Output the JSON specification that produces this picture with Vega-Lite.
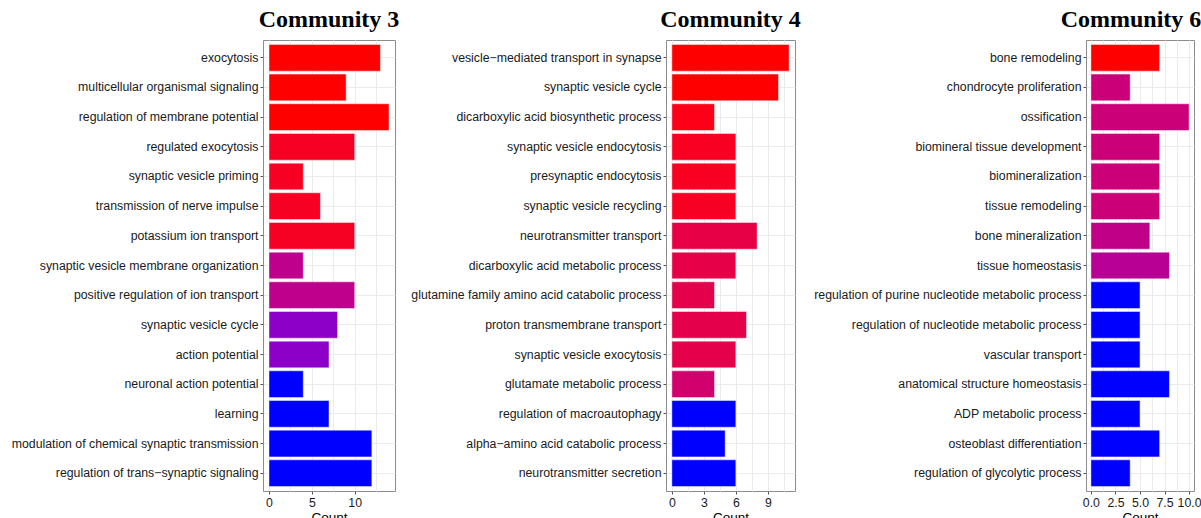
{
  "$schema": "https://vega.github.io/schema/vega-lite/v6.json",
  "background": "white",
  "padding": {"left": 10, "top": 7, "right": 5, "bottom": 0},
  "bounds": "full",
  "spacing": 11,
  "config": {
    "view": {"stroke": "#8c8c8c", "strokeWidth": 1},
    "axis": {
      "labelFont": "Liberation Sans", "labelFontSize": 12.3, "labelColor": "#1a1a1a",
      "titleFont": "Liberation Sans", "titleFontSize": 13.5, "titleFontWeight": "normal", "titleColor": "#000000",
      "tickColor": "#555555", "tickSize": 3, "labelPadding": 2, "domain": false,
      "gridColor": "#ebebeb", "gridWidth": 1, "titlePadding": 2
    },
    "title": {"font": "Liberation Serif", "fontSize": 24, "fontWeight": "bold", "color": "#000000", "anchor": "middle", "frame": "group", "baseline": "alphabetic", "offset": 8}
  },
  "data": {"values": [
    {"community": "Community 3", "term": "exocytosis", "count": 13, "padj": 0},
    {"community": "Community 3", "term": "multicellular organismal signaling", "count": 9, "padj": 0},
    {"community": "Community 3", "term": "regulation of membrane potential", "count": 14, "padj": 0},
    {"community": "Community 3", "term": "regulated exocytosis", "count": 10, "padj": 0.08},
    {"community": "Community 3", "term": "synaptic vesicle priming", "count": 4, "padj": 0.08},
    {"community": "Community 3", "term": "transmission of nerve impulse", "count": 6, "padj": 0.08},
    {"community": "Community 3", "term": "potassium ion transport", "count": 10, "padj": 0.08},
    {"community": "Community 3", "term": "synaptic vesicle membrane organization", "count": 4, "padj": 0.52},
    {"community": "Community 3", "term": "positive regulation of ion transport", "count": 10, "padj": 0.52},
    {"community": "Community 3", "term": "synaptic vesicle cycle", "count": 8, "padj": 0.77},
    {"community": "Community 3", "term": "action potential", "count": 7, "padj": 0.77},
    {"community": "Community 3", "term": "neuronal action potential", "count": 4, "padj": 1},
    {"community": "Community 3", "term": "learning", "count": 7, "padj": 1},
    {"community": "Community 3", "term": "modulation of chemical synaptic transmission", "count": 12, "padj": 1},
    {"community": "Community 3", "term": "regulation of trans−synaptic signaling", "count": 12, "padj": 1},
    {"community": "Community 4", "term": "vesicle−mediated transport in synapse", "count": 11, "padj": 0},
    {"community": "Community 4", "term": "synaptic vesicle cycle", "count": 10, "padj": 0},
    {"community": "Community 4", "term": "dicarboxylic acid biosynthetic process", "count": 4, "padj": 0.04},
    {"community": "Community 4", "term": "synaptic vesicle endocytosis", "count": 6, "padj": 0.07},
    {"community": "Community 4", "term": "presynaptic endocytosis", "count": 6, "padj": 0.07},
    {"community": "Community 4", "term": "synaptic vesicle recycling", "count": 6, "padj": 0.08},
    {"community": "Community 4", "term": "neurotransmitter transport", "count": 8, "padj": 0.21},
    {"community": "Community 4", "term": "dicarboxylic acid metabolic process", "count": 6, "padj": 0.22},
    {"community": "Community 4", "term": "glutamine family amino acid catabolic process", "count": 4, "padj": 0.23},
    {"community": "Community 4", "term": "proton transmembrane transport", "count": 7, "padj": 0.23},
    {"community": "Community 4", "term": "synaptic vesicle exocytosis", "count": 6, "padj": 0.23},
    {"community": "Community 4", "term": "glutamate metabolic process", "count": 4, "padj": 0.38},
    {"community": "Community 4", "term": "regulation of macroautophagy", "count": 6, "padj": 1},
    {"community": "Community 4", "term": "alpha−amino acid catabolic process", "count": 5, "padj": 1},
    {"community": "Community 4", "term": "neurotransmitter secretion", "count": 6, "padj": 1},
    {"community": "Community 6", "term": "bone remodeling", "count": 7, "padj": 0},
    {"community": "Community 6", "term": "chondrocyte proliferation", "count": 4, "padj": 0.43},
    {"community": "Community 6", "term": "ossification", "count": 10, "padj": 0.43},
    {"community": "Community 6", "term": "biomineral tissue development", "count": 7, "padj": 0.43},
    {"community": "Community 6", "term": "biomineralization", "count": 7, "padj": 0.43},
    {"community": "Community 6", "term": "tissue remodeling", "count": 7, "padj": 0.43},
    {"community": "Community 6", "term": "bone mineralization", "count": 6, "padj": 0.5},
    {"community": "Community 6", "term": "tissue homeostasis", "count": 8, "padj": 0.55},
    {"community": "Community 6", "term": "regulation of purine nucleotide metabolic process", "count": 5, "padj": 1},
    {"community": "Community 6", "term": "regulation of nucleotide metabolic process", "count": 5, "padj": 1},
    {"community": "Community 6", "term": "vascular transport", "count": 5, "padj": 1},
    {"community": "Community 6", "term": "anatomical structure homeostasis", "count": 8, "padj": 1},
    {"community": "Community 6", "term": "ADP metabolic process", "count": 5, "padj": 1},
    {"community": "Community 6", "term": "osteoblast differentiation", "count": 7, "padj": 1},
    {"community": "Community 6", "term": "regulation of glycolytic process", "count": 4, "padj": 1}
  ]},
  "hconcat": [
    {
      "bounds": "flush",
      "spacing": 271,
      "hconcat": [
        {
          "title": "Community 3",
          "width": 132, "height": 451,
          "transform": [{"filter": "datum.community == 'Community 3'"}],
          "mark": {"type": "bar", "stroke": "white", "strokeWidth": 1, "strokeOpacity": 0.45},
          "encoding": {
            "y": {"field": "term", "type": "nominal", "sort": null, "title": null,
              "scale": {"paddingInner": 0.1, "paddingOuter": 0.15},
              "axis": {"grid": true, "bandPosition": 0.5, "labelLimit": 500}},
            "x": {"field": "count", "type": "quantitative", "title": "Count",
              "scale": {"domain": [-0.7, 14.7], "nice": false, "zero": false},
              "axis": {"values": [0, 2.5, 5, 7.5, 10, 12.5],
                "labelExpr": "datum.value % 5 == 0 ? format(datum.value, 'd') : ''",
                "tickOpacity": {"condition": {"test": "datum.value % 5 != 0", "value": 0}, "value": 1}}},
            "color": {"field": "padj", "type": "quantitative",
              "scale": {"domain": [0, 1], "range": ["#ff0000", "#0000ff"], "interpolate": "lab"}, "legend": null}
          }
        },
        {
          "title": "Community 4",
          "width": 129, "height": 451,
          "transform": [{"filter": "datum.community == 'Community 4'"}],
          "mark": {"type": "bar", "stroke": "white", "strokeWidth": 1, "strokeOpacity": 0.45},
          "encoding": {
            "y": {"field": "term", "type": "nominal", "sort": null, "title": null,
              "scale": {"paddingInner": 0.1, "paddingOuter": 0.15},
              "axis": {"grid": true, "bandPosition": 0.5, "labelLimit": 500}},
            "x": {"field": "count", "type": "quantitative", "title": "Count",
              "scale": {"domain": [-0.55, 11.55], "nice": false, "zero": false},
              "axis": {"values": [0, 1.5, 3, 4.5, 6, 7.5, 9, 10.5],
                "labelExpr": "datum.value % 3 == 0 ? format(datum.value, 'd') : ''",
                "tickOpacity": {"condition": {"test": "datum.value % 3 != 0", "value": 0}, "value": 1}}},
            "color": {"field": "padj", "type": "quantitative",
              "scale": {"domain": [0, 1], "range": ["#ff0000", "#0000ff"], "interpolate": "lab"}, "legend": null}
          }
        }
      ]
    },
    {
      "title": {"text": "Community 6", "dx": -9},
      "width": 108, "height": 451,
      "transform": [{"filter": "datum.community == 'Community 6'"}],
      "mark": {"type": "bar", "stroke": "white", "strokeWidth": 1, "strokeOpacity": 0.45},
      "encoding": {
        "y": {"field": "term", "type": "nominal", "sort": null, "title": null,
          "scale": {"paddingInner": 0.1, "paddingOuter": 0.15},
          "axis": {"grid": true, "bandPosition": 0.5, "labelLimit": 500}},
        "x": {"field": "count", "type": "quantitative", "title": "Count",
          "scale": {"domain": [-0.5, 10.5], "nice": false, "zero": false},
          "axis": {"values": [0, 1.25, 2.5, 3.75, 5, 6.25, 7.5, 8.75, 10],
            "labelExpr": "datum.value % 2.5 == 0 ? format(datum.value, '.1f') : ''",
            "tickOpacity": {"condition": {"test": "datum.value % 2.5 != 0", "value": 0}, "value": 1}}},
        "color": {"field": "padj", "type": "quantitative",
          "scale": {"domain": [0, 1], "range": ["#ff0000", "#0000ff"], "interpolate": "lab"}, "legend": null}
      }
    }
  ]
}
